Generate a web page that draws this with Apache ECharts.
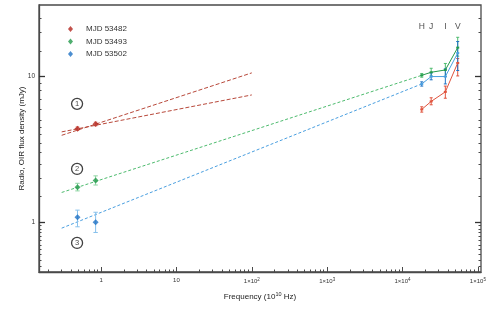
<!DOCTYPE html>
<html>
<head>
<meta charset="utf-8">
<script src="https://cdn.jsdelivr.net/npm/echarts@6/dist/echarts.min.js"></script>
<style>html,body{margin:0;padding:0;background:#fff}#c{width:491px;height:311px}</style>
</head>
<body>
<div id="c"></div>
<script>
// ---------- data ----------
const seriesNames = ['MJD 53482', 'MJD 53493', 'MJD 53502'];
const radioFreq = [0.486, 0.846];          // 10^10 Hz
const radio53482 = [4.39, 4.73];
const radio53482Lo = [4.26, 4.59];
const radio53482Hi = [4.52, 4.87];
const radio53493 = [1.74, 1.93];
const radio53493Lo = [1.64, 1.80];
const radio53493Hi = [1.85, 2.08];
const radio53502 = [1.08, 1.00];
const radio53502Lo = [0.93, 0.85];
const radio53502Hi = [1.21, 1.17];

const nirBands = ['H', 'J', 'I', 'V'];
const nirFreq = [1.8e4, 2.4e4, 3.7e4, 5.4e4];
const nir53482 = [5.95, 6.75, 7.85, 12.4];
const nir53482Lo = [5.70, 6.40, 7.10, 10.1];
const nir53482Hi = [6.20, 7.15, 8.60, 13.3];
const nir53493 = [10.2, 10.7, 11.1, 15.8];
const nir53493Lo = [9.9, 10.1, 10.0, 13.8];
const nir53493Hi = [10.5, 11.4, 12.3, 18.6];
const nir53502 = [8.9, 10.0, 10.0, 14.5];
const nir53502Lo = [8.6, 9.5, 8.9, 11.0];
const nir53502Hi = [9.2, 10.6, 11.3, 17.4];

// power-law fits (start / end points)
const fitRedA = [[0.3, 3.95], [100, 10.6]];
const fitRedB = [[0.3, 4.17], [100, 7.48]];
const fitGreen = [[0.3, 1.6], [1.8e4, 10.2]];
const fitBlue = [[0.3, 0.91], [1.8e4, 8.9]];

const markerLabels = ['1', '2', '3'];
const markerFreq = [0.48, 0.48, 0.48];
const markerFlux = [6.5, 2.32, 0.72];
const bandLabelFlux = 22;

const xMajorTicks = [1, 10, 100, 1000, 10000, 100000];
const xMinorMult = [2, 3, 4, 5, 6, 7, 8, 9];
const xMinorDecades = [0.1, 1, 10, 100, 1000, 10000];
const yMajorTicks = [1, 10];
const yMinorTicks = [0.5, 0.55, 0.6, 0.65, 0.7, 0.75, 0.8, 0.85, 0.9, 0.95,
  1.5, 2, 2.5, 3, 3.5, 4, 4.5, 5, 6, 7, 8, 9, 15, 20, 25];

const xMin = 0.15, xMax = 1.1e5, yMin = 0.455, yMax = 31;

// ---------- colours ----------
const red = '#b3261e', redLine = '#b8483a', redNir = '#e0533d', redErr = '#e89a8c';
const green = '#239a4b', greenLine = '#4dbb6e', greenErr = '#8dd4a2';
const blue = '#1f72c4', blueLine = '#4a9fe0', blueErr = '#86c0ec';

const FONT = 'Liberation Sans, Arial, Helvetica, sans-serif';

const xMinorTicks = [];
xMinorDecades.forEach(d => xMinorMult.forEach(m => {
  const v = +(m * d).toPrecision(3);
  if (v > xMin && v < xMax) xMinorTicks.push(v);
}));

function pts(xs, ys) { return xs.map((x, i) => [x, ys[i]]); }
function errData(xs, ys, lo, hi) { return xs.map((x, i) => [x, ys[i], lo[i], hi[i]]); }

function errSeries(data, color, cap) {
  return {
    type: 'custom', xAxisIndex: 0, yAxisIndex: 0, silent: true, z: 3,
    data: data,
    renderItem: function (params, api) {
      const x = api.value(0);
      const p1 = api.coord([x, api.value(2)]);
      const p2 = api.coord([x, api.value(3)]);
      const st = { stroke: color, lineWidth: 1 };
      return {
        type: 'group', children: [
          { type: 'line', shape: { x1: p1[0], y1: p1[1], x2: p2[0], y2: p2[1] }, style: st },
          { type: 'line', shape: { x1: p1[0] - cap, y1: p1[1], x2: p1[0] + cap, y2: p1[1] }, style: st },
          { type: 'line', shape: { x1: p2[0] - cap, y1: p2[1], x2: p2[0] + cap, y2: p2[1] }, style: st }
        ]
      };
    }
  };
}

function fitLine(data, color, dash) {
  return {
    type: 'line', data: data, symbol: 'none', silent: true, z: 2,
    lineStyle: { color: color, width: 1, type: dash }
  };
}

function nirLine(ys, color) {
  return {
    type: 'line', data: pts(nirFreq, ys), symbol: 'rect', symbolSize: [3, 2],
    itemStyle: { color: color }, lineStyle: { color: color, width: 1 }, z: 4, silent: true
  };
}

function radioScatter(name, ys, color) {
  return {
    name: name, type: 'scatter', data: pts(radioFreq, ys), symbol: 'diamond',
    symbolSize: 6, itemStyle: { color: color }, z: 5
  };
}

const logAxisBase = { type: 'log', logBase: 10, gridIndex: 0 };

const chart = echarts.init(document.getElementById('c'), null, { renderer: 'canvas' });
chart.setOption({
  animation: false,
  backgroundColor: '#fff',
  textStyle: { fontFamily: FONT },
  grid: { left: 39, right: 10, top: 5, bottom: 39, show: true, borderColor: '#4a4a4a', borderWidth: 1.3, containLabel: false },
  legend: {
    data: seriesNames, orient: 'vertical', left: 63, top: 20, itemGap: 4.5,
    icon: 'diamond', itemWidth: 5, itemHeight: 6,
    textStyle: { fontSize: 8, color: '#333', fontFamily: FONT, padding: [0, 0, 0, 8] }
  },
  xAxis: [
    Object.assign({}, logAxisBase, {
      position: 'bottom', min: xMin, max: xMax,
      name: 'Frequency (10{s|10} Hz)', nameLocation: 'middle', nameGap: 19, nameMoveOverlap: false,
      nameTextStyle: { fontSize: 8, color: '#222', fontFamily: FONT, rich: { s: { fontSize: 5.5, verticalAlign: 'bottom', padding: [0, 0, 6, 0], fontFamily: FONT } } },
      axisLine: { show: true, onZero: false, lineStyle: { color: '#4a4a4a', width: 1.3 } },
      axisTick: { show: true, inside: true, length: 5, customValues: xMajorTicks, lineStyle: { color: '#4a4a4a' } },
      axisLabel: {
        customValues: xMajorTicks, fontSize: 6, color: '#333', margin: 5, fontFamily: FONT,
        formatter: function (v) {
          if (v < 100) return String(Math.round(v));
          return '1×10{s|' + Math.round(Math.log10(v)) + '}';
        },
        rich: { s: { fontSize: 4.5, verticalAlign: 'bottom', padding: [0, 0, 4, 0], fontFamily: FONT } }
      },
      splitLine: { show: false }, minorTick: { show: false }
    }),
    Object.assign({}, logAxisBase, {
      position: 'bottom', min: xMin, max: xMax,
      axisLine: { show: false, onZero: false },
      axisTick: { show: true, inside: true, length: 2.5, customValues: xMinorTicks, lineStyle: { color: '#4a4a4a' } },
      axisLabel: { show: false }, splitLine: { show: false }
    })
  ],
  yAxis: [
    Object.assign({}, logAxisBase, {
      position: 'left', min: yMin, max: yMax,
      name: 'Radio, OIR flux density (mJy)', nameLocation: 'middle', nameGap: 13, nameMoveOverlap: false,
      nameTextStyle: { fontSize: 8, color: '#222', fontFamily: FONT },
      axisLine: { show: true, onZero: false, lineStyle: { color: '#4a4a4a', width: 1.3 } },
      axisTick: { show: true, inside: true, length: 6, customValues: yMajorTicks, lineStyle: { color: '#333', width: 1.3 } },
      axisLabel: { customValues: yMajorTicks, fontSize: 6.5, color: '#333', margin: 4, fontFamily: FONT },
      splitLine: { show: false }
    }),
    Object.assign({}, logAxisBase, {
      position: 'left', min: yMin, max: yMax,
      axisLine: { show: false, onZero: false },
      axisTick: { show: true, inside: true, length: 2.5, customValues: yMinorTicks, lineStyle: { color: '#4a4a4a' } },
      axisLabel: { show: false }, splitLine: { show: false }
    }),
    Object.assign({}, logAxisBase, {
      position: 'right', min: yMin, max: yMax,
      axisLine: { show: false, onZero: false },
      axisTick: { show: true, inside: true, length: 6, customValues: yMajorTicks, lineStyle: { color: '#333', width: 1.3 } },
      axisLabel: { show: false }, splitLine: { show: false }
    }),
    Object.assign({}, logAxisBase, {
      position: 'right', min: yMin, max: yMax,
      axisLine: { show: false, onZero: false },
      axisTick: { show: true, inside: true, length: 2.5, customValues: yMinorTicks, lineStyle: { color: '#4a4a4a' } },
      axisLabel: { show: false }, splitLine: { show: false }
    })
  ],
  series: [
    radioScatter(seriesNames[0], radio53482, red),
    radioScatter(seriesNames[1], radio53493, green),
    radioScatter(seriesNames[2], radio53502, blue),
    errSeries(errData(radioFreq, radio53482, radio53482Lo, radio53482Hi), redErr, 1.8),
    errSeries(errData(radioFreq, radio53493, radio53493Lo, radio53493Hi), greenErr, 2.2),
    errSeries(errData(radioFreq, radio53502, radio53502Lo, radio53502Hi), blueErr, 2.2),
    fitLine(fitRedA, redLine, [4, 2]),
    fitLine(fitRedB, redLine, [4, 2]),
    fitLine(fitGreen, greenLine, [3, 2]),
    fitLine(fitBlue, blueLine, [3, 2]),
    nirLine(nir53482, redNir),
    nirLine(nir53493, green),
    nirLine(nir53502, blueLine),
    errSeries(errData(nirFreq, nir53482, nir53482Lo, nir53482Hi), redNir, 1.5),
    errSeries(errData(nirFreq, nir53493, nir53493Lo, nir53493Hi), greenLine, 1.5),
    errSeries(errData(nirFreq, nir53502, nir53502Lo, nir53502Hi), blue, 1.5),
    {
      type: 'scatter', silent: true, z: 6,
      data: markerFreq.map((f, i) => ({ value: [f, markerFlux[i]], label: { formatter: markerLabels[i] } })),
      symbol: 'circle', symbolSize: 11,
      itemStyle: { color: '#fff', borderColor: '#111', borderWidth: 1.3 },
      label: { show: true, position: 'inside', fontSize: 7.5, color: '#111', fontFamily: FONT }
    },
    {
      type: 'scatter', silent: true, z: 6,
      data: nirFreq.map((f, i) => ({ value: [f, bandLabelFlux], label: { formatter: nirBands[i] } })),
      symbolSize: 0,
      label: { show: true, position: 'inside', fontSize: 8.5, color: '#222', fontFamily: FONT }
    }
  ]
});
</script>
</body>
</html>
